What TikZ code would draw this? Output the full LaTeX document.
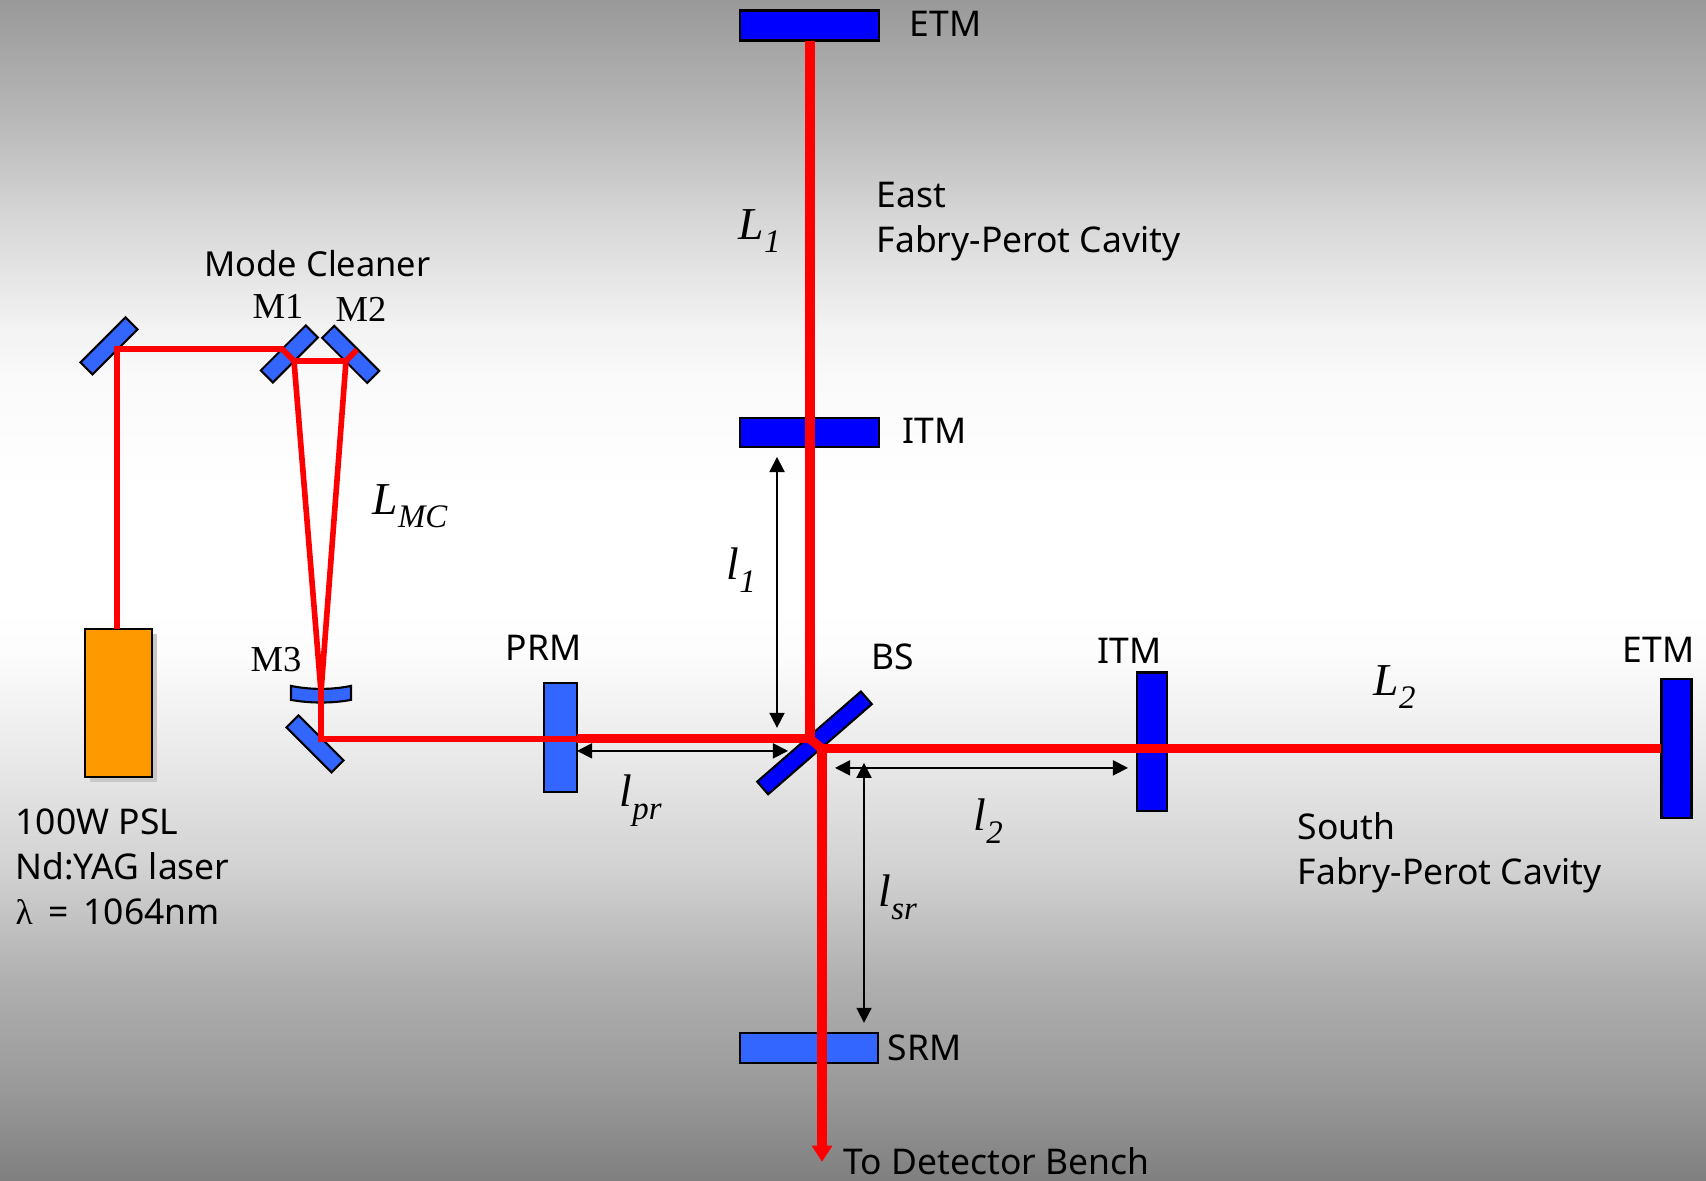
\documentclass[tikz,border=0pt]{standalone}
\usepackage{fontspec}
\usetikzlibrary{arrows.meta}
\setmainfont{Noto Sans}
\newfontfamily\timesfont{Liberation Serif}
\definecolor{darkmirror}{RGB}{0, 0, 255}
\definecolor{lightmirror}{RGB}{51, 102, 255}
\definecolor{laserorange}{RGB}{255, 153, 0}
\definecolor{laserred}{RGB}{255, 0, 0}
\pgfdeclareverticalshading{wallshade}{100bp}{
	color(0bp)=(black!50!white);
	color(25bp)=(black!50!white);
	color(28.9bp)=(black!40!white);
	color(33.5bp)=(black!31!white);
	color(38.1bp)=(black!18!white);
	color(42.7bp)=(black!9!white);
	color(47.3bp)=(black!1!white);
	color(49.2bp)=(white);
	color(54.3bp)=(white);
	color(58.9bp)=(black!2!white);
	color(61.2bp)=(black!5!white);
	color(65.8bp)=(black!16!white);
	color(70.4bp)=(black!29!white);
	color(75bp)=(black!40!white);
	color(100bp)=(black!40!white)}
\newcommand{\lensym}[3]{{\timesfont\itshape\fontsize{#3}{#3}\selectfont #1\raisebox{-0.28em}{\fontsize{0.72\dimexpr#3\relax}{1em}\selectfont #2}}}
\tikzset{
	mirrorbox/.style={rectangle, draw=black, line width=0.6pt, inner sep=0pt},
	thinbeam/.style={draw=laserred, line width=1.6pt},
	widebeam/.style={draw=laserred, line width=2.6pt},
	gauge/.style={draw=black, line width=0.5pt, {Triangle[length=4.3pt,width=4.3pt]}-{Triangle[length=4.3pt,width=4.3pt]}},
	tagtext/.style={anchor=base west, inner sep=0pt, font=\fontsize{10.1pt}{12.7pt}\selectfont, text=black},
	tagserif/.style={anchor=base west, inner sep=0pt, font=\timesfont\fontsize{10.4pt}{11pt}\selectfont, text=black},
	tagsym/.style={anchor=base west, inner sep=0pt, text=black}
}
\begin{document}
\begin{tikzpicture}[x=0.2837bp, y=-0.28366bp]
	\useasboundingbox (0,0) rectangle (1706,1181);
	\shade[shading=wallshade] (0,0) rectangle (1706,1181);

	\node[rectangle, fill=black!22, minimum width=0.67cm, minimum height=1.48cm, inner sep=0pt] (lasershadow) at (123.5,708) {};
	\node[mirrorbox, fill=laserorange, minimum width=0.67cm, minimum height=1.48cm] (laser) at (118.5,703) {};

	\node[mirrorbox, fill=lightmirror, minimum width=0.637cm, minimum height=0.17cm, rotate=45] (foldone) at (109,346) {};
	\node[mirrorbox, fill=lightmirror, minimum width=0.637cm, minimum height=0.17cm, rotate=45] (mone) at (289.3,354) {};
	\node[mirrorbox, fill=lightmirror, minimum width=0.637cm, minimum height=0.17cm, rotate=-45] (mtwo) at (350.7,354.5) {};
	\node[mirrorbox, fill=lightmirror, minimum width=0.637cm, minimum height=0.17cm, rotate=-45] (foldtwo) at (315,744) {};
	\draw[mirrorbox, fill=lightmirror] (291,686) .. controls (310,690) and (332,690) .. (351,686) -- (351,700) .. controls (332,703.5) and (310,703.5) .. (291,700) -- cycle;

	\node[mirrorbox, fill=lightmirror, minimum width=0.33cm, minimum height=1.09cm] (prm) at (560.5,738) {};
	\node[mirrorbox, fill=lightmirror, minimum width=1.38cm, minimum height=0.30cm] (srm) at (809,1048) {};
	\node[mirrorbox, fill=darkmirror, minimum width=1.39cm, minimum height=0.30cm] (etmeast) at (809.5,25.5) {};
	\node[mirrorbox, fill=darkmirror, minimum width=1.39cm, minimum height=0.29cm] (itmeast) at (809.5,432.5) {};
	\node[mirrorbox, fill=darkmirror, minimum width=0.30cm, minimum height=1.39cm] (itmsouth) at (1152,742) {};
	\node[mirrorbox, fill=darkmirror, minimum width=0.30cm, minimum height=1.39cm] (etmsouth) at (1676.5,748.5) {};
	\node[mirrorbox, fill=darkmirror, minimum width=1.375cm, minimum height=0.167cm, rotate=41] (bs) at (814.5,743) {};

	\coordinate (laserout) at (117,629);
	\coordinate (foldonehit) at (117,349);
	\coordinate (monein) at (282,349);
	\coordinate (monehit) at (294,361);
	\coordinate (mtwohit) at (346,361);
	\coordinate (mtwoout) at (357,350);
	\coordinate (mthreehit) at (321,692);
	\coordinate (foldtwohit) at (321,739);
	\coordinate (prmfront) at (577,739);
	\coordinate (bsleft) at (810,739);
	\coordinate (bsright) at (822,749);
	\coordinate (etmeastface) at (810,41);
	\coordinate (etmsouthface) at (1661,749);
	\coordinate (benchend) at (822,1162);

	\draw[thinbeam] (laserout) -- (foldonehit) -- (monein) -- (monehit) -- (mtwohit) -- (mtwoout);
	\draw[thinbeam, line join=miter] (monehit) -- (mthreehit) -- (mtwohit);
	\draw[thinbeam] (mthreehit) -- (foldtwohit) -- (prmfront);
	\draw[widebeam] (prmfront) -- (bsleft) -- (etmeastface);
	\draw[widebeam] (bsleft) -- (bsright);
	\draw[widebeam] (bsright) -- (etmsouthface);
	\draw[widebeam, -{Triangle[length=4.6pt,width=5.6pt]}] (bsright) -- (benchend);

	\coordinate (lonetop) at (777,457);
	\coordinate (lonebot) at (777,728);
	\coordinate (lprleft) at (577,751);
	\coordinate (lprright) at (788,751);
	\coordinate (ltwoleft) at (835,768);
	\coordinate (ltworight) at (1128,768);
	\coordinate (lsrtop) at (864,763);
	\coordinate (lsrbot) at (864,1023);
	\draw[gauge] (lonetop) -- (lonebot);
	\draw[gauge] (lprleft) -- (lprright);
	\draw[gauge] (ltwoleft) -- (ltworight);
	\draw[gauge] (lsrtop) -- (lsrbot);

	\node[tagtext] (etmeasttag) at (909,37) {ETM};
	\node[tagtext] (itmeasttag) at (902,444) {ITM};
	\node[tagtext] (bstag) at (871,670) {BS};
	\node[tagtext] (prmtag) at (505,661) {PRM};
	\node[tagtext] (itmsouthtag) at (1097,664) {ITM};
	\node[tagtext] (etmsouthtag) at (1622,663) {ETM};
	\node[tagtext] (srmtag) at (887,1061) {SRM};
	\node[tagtext] (benchtag) at (843,1175) {To Detector Bench};
	\node[tagtext, font=\fontsize{9.8pt}{12.7pt}\selectfont] (modetag) at (204,277) {Mode Cleaner};
	\node[tagtext, align=left, anchor=north west] (easttag) at (876,181.5) {East\\Fabry-Perot Cavity};
	\node[tagtext, align=left, anchor=north west] (southtag) at (1297,812) {South\\Fabry-Perot Cavity};
	\node[tagtext, align=left, anchor=north west] (lasertag) at (15,808.5) {100W PSL\\Nd:YAG laser\\{\timesfont λ}\ \,=\ \,1064nm};

	\node[tagserif] (monetag) at (252,319) {M1};
	\node[tagserif] (mtwotag) at (335,322) {M2};
	\node[tagserif] (mthreetag) at (250,672) {M3};

	\node[tagsym] (lmctag) at (372,515) {\lensym{L}{MC}{13pt}};
	\node[tagsym] (lonetag) at (738,240) {\lensym{L}{1}{13pt}};
	\node[tagsym] (ltwotag) at (1373,696) {\lensym{L}{2}{13pt}};
	\node[tagsym] (smallonetag) at (726,580) {\lensym{l}{1}{13pt}};
	\node[tagsym] (smalltwotag) at (973,831) {\lensym{l}{2}{13pt}};
	\node[tagsym] (smallprtag) at (619,807) {\lensym{l}{pr}{13pt}};
	\node[tagsym] (smallsrtag) at (878,907) {\lensym{l}{sr}{13pt}};
\end{tikzpicture}
\end{document}
